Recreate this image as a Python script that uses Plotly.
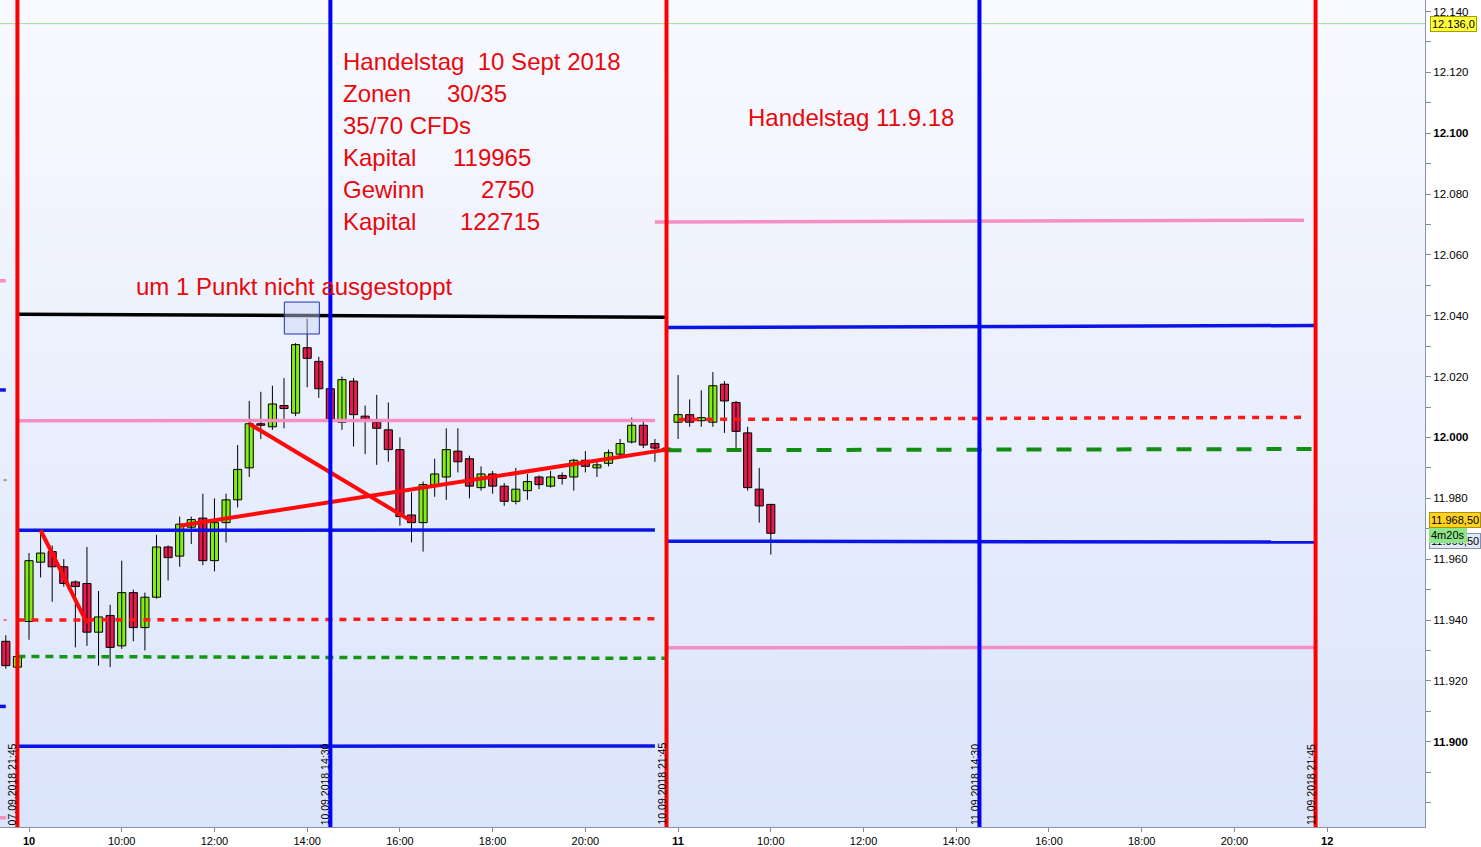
import plotly.graph_objects as go

# ---------------- data ----------------
candle_stamp = [
    "07.09.2018 21:30", "07.09.2018 21:45",
    "10.09.2018 08:00", "10.09.2018 08:15", "10.09.2018 08:30", "10.09.2018 08:45",
    "10.09.2018 09:00", "10.09.2018 09:15", "10.09.2018 09:30", "10.09.2018 09:45",
    "10.09.2018 10:00", "10.09.2018 10:15", "10.09.2018 10:30", "10.09.2018 10:45",
    "10.09.2018 11:00", "10.09.2018 11:15", "10.09.2018 11:30", "10.09.2018 11:45",
    "10.09.2018 12:00", "10.09.2018 12:15", "10.09.2018 12:30", "10.09.2018 12:45",
    "10.09.2018 13:00", "10.09.2018 13:15", "10.09.2018 13:30", "10.09.2018 13:45",
    "10.09.2018 14:00", "10.09.2018 14:15", "10.09.2018 14:30", "10.09.2018 14:45",
    "10.09.2018 15:00", "10.09.2018 15:15", "10.09.2018 15:30", "10.09.2018 15:45",
    "10.09.2018 16:00", "10.09.2018 16:15", "10.09.2018 16:30", "10.09.2018 16:45",
    "10.09.2018 17:00", "10.09.2018 17:15", "10.09.2018 17:30", "10.09.2018 17:45",
    "10.09.2018 18:00", "10.09.2018 18:15", "10.09.2018 18:30", "10.09.2018 18:45",
    "10.09.2018 19:00", "10.09.2018 19:15", "10.09.2018 19:30", "10.09.2018 19:45",
    "10.09.2018 20:00", "10.09.2018 20:15", "10.09.2018 20:30", "10.09.2018 20:45",
    "10.09.2018 21:00", "10.09.2018 21:15", "10.09.2018 21:30", "10.09.2018 21:45",
    "11.09.2018 08:00", "11.09.2018 08:15", "11.09.2018 08:30", "11.09.2018 08:45",
    "11.09.2018 09:00", "11.09.2018 09:15", "11.09.2018 09:30", "11.09.2018 09:45",
    "11.09.2018 10:00",
]
candle_open = [
    11933, 11924.5,
    11939.5, 11959, 11962.5, 11957.5, 11952.5, 11952, 11936, 11941.5,
    11931.5, 11949, 11937.5, 11947.5, 11964, 11961, 11970.5, 11973.5,
    11959.5, 11972, 11979.5, 11990, 12004.5, 12003.5, 12010.5, 12008,
    12029.5, 12025, 12016, 12005, 12018.5, 12007, 12005, 12002.5,
    11996, 11974.5, 11972, 11984.5, 11987, 11995.5, 11993, 11983.5,
    11988, 11984, 11979, 11982.5, 11987, 11984, 11987.5, 11987,
    11992.5, 11990, 11991.5, 11994.5, 11998.5, 12004, 11998, 11996.5,
    12005, 12007.5, 12005.5, 12005, 12017.5, 12011.5, 12001.5, 11983,
    11978,
]
candle_high = [
    11935, 11928.5,
    11962, 11969.5, 11964.5, 11960, 11953, 11964, 11949.5, 11945,
    11959.5, 11950, 11949, 11968, 11964.5, 11974, 11974, 11981.5,
    11980, 11981.5, 11997.5, 12012, 12015, 12017, 12019.5, 12031,
    12039, 12026.5, 12016.5, 12020, 12019.5, 12010.5, 12014, 12011.5,
    12000, 11982, 11985.5, 11993, 12003, 12003, 11994, 11990.5,
    11989, 11985, 11990, 11988, 11987.5, 11989, 11988.5, 11993,
    11995.5, 11992.5, 11996, 11999.5, 12006.5, 12006, 11999.5, 11998,
    12020.5, 12012.5, 12015.5, 12021.5, 12018.5, 12012, 12003.5, 11990,
    11978,
]
candle_low = [
    11924, 11924,
    11933.5, 11954, 11946, 11951, 11931, 11931.5, 11925, 11924.5,
    11930.5, 11933, 11930, 11947, 11953, 11957.5, 11965, 11958,
    11956, 11965.5, 11977, 11987, 11999.5, 12002.5, 12003, 12007,
    12016.5, 12013, 12005, 12002.5, 11997, 11994.5, 11991, 11992,
    11971, 11965.5, 11962.5, 11980.5, 11979.5, 11988.5, 11980, 11982.5,
    11981.5, 11977.5, 11978, 11979.5, 11983, 11983.5, 11984.5, 11982.5,
    11988.5, 11987, 11990.5, 11994, 11998, 11996.5, 11992, 11995,
    11999.5, 12003.5, 12003.5, 12003.5, 12001.5, 11996, 11982.5, 11972,
    11961.5,
]
candle_close = [
    11925, 11928,
    11959.5, 11962, 11957.5, 11952, 11951, 11936, 11941, 11931,
    11949, 11937.5, 11947.5, 11964, 11960.5, 11971.5, 11973, 11959.5,
    11972, 11979.5, 11989.5, 12004.5, 12004, 12011, 12009.5, 12030.5,
    12026, 12016, 12006, 12019, 12007.5, 12005.5, 12003, 11996,
    11974, 11972, 11984.5, 11988, 11996, 11992, 11984, 11988,
    11984, 11979, 11983, 11985.5, 11984.5, 11987, 11986.5, 11992.5,
    11990.5, 11991, 11995, 11998, 12004, 11997.5, 11996.5, 11996,
    12007.5, 12005, 12006.5, 12017, 12012, 12002, 11983.5, 11977.5,
    11968.5,
]

# drawn level / trend segments
seg_kind = ["stop", "zone_pink", "zone_blue", "entry", "pivot", "zone_blue",
            "zone_pink", "zone_blue", "entry", "pivot2", "zone_blue", "zone_pink",
            "zone_pink", "zone_blue", "prev_gray", "prev_red", "zone_blue", "zone_pink",
            "trend", "trend", "trend"]
seg_from = ["07.09.2018 21:45", "07.09.2018 21:45", "07.09.2018 21:45", "07.09.2018 21:45",
            "07.09.2018 21:45", "07.09.2018 21:45",
            "10.09.2018 21:30", "10.09.2018 21:45", "11.09.2018 08:00", "10.09.2018 21:45",
            "10.09.2018 21:45", "10.09.2018 21:45",
            "07.09.2018 21:00", "07.09.2018 21:00", "07.09.2018 21:30", "07.09.2018 21:30",
            "07.09.2018 21:00", "07.09.2018 21:00",
            "10.09.2018 08:15", "10.09.2018 12:45", "10.09.2018 11:15"]
seg_to = ["10.09.2018 21:45", "10.09.2018 21:30", "10.09.2018 21:30", "10.09.2018 21:30",
          "10.09.2018 21:45", "10.09.2018 21:30",
          "11.09.2018 21:30", "11.09.2018 21:45", "11.09.2018 21:30", "11.09.2018 21:45",
          "11.09.2018 21:45", "11.09.2018 21:45",
          "07.09.2018 21:30", "07.09.2018 21:30", "07.09.2018 21:30", "07.09.2018 21:30",
          "07.09.2018 21:30", "07.09.2018 21:30",
          "10.09.2018 09:15", "10.09.2018 16:15", "10.09.2018 21:45"]
seg_v0 = [12040.5, 12005.5, 11969.5, 11940, 11928, 11898.5,
          12070.8, 12036.1, 12005.9, 11995.8, 11965.9, 11930.9,
          12051.5, 12015.6, 11986, 11940, 11911.6, 11875,
          11969.5, 12004.5, 11971]
seg_v1 = [12039.5, 12005.6, 11969.6, 11940.4, 11927.4, 11898.6,
          12071.4, 12036.8, 12006.6, 11996.2, 11965.6, 11931,
          12051.5, 12015.6, 11986, 11940, 11911.6, 11875,
          11939, 11972.5, 11996]

marker_stamp = ["07.09.2018 21:45", "10.09.2018 14:30", "10.09.2018 21:45",
                "11.09.2018 14:30", "11.09.2018 21:45"]
marker_kind = ["close", "zone", "close", "zone", "close"]

box_from, box_to = "10.09.2018 13:30", "10.09.2018 14:15"
box_low, box_high = 12034, 12044.5

last_price = 12136
current_price = 11968.5
prior_price_label = "11.966,50"
timer_label = "4m20s"

x_tick_stamp = ["10.09.2018 08:00", "10.09.2018 10:00", "10.09.2018 12:00", "10.09.2018 14:00",
                "10.09.2018 16:00", "10.09.2018 18:00", "10.09.2018 20:00",
                "11.09.2018 08:00", "11.09.2018 10:00", "11.09.2018 12:00", "11.09.2018 14:00",
                "11.09.2018 16:00", "11.09.2018 18:00", "11.09.2018 20:00", "12.09.2018 08:00"]
x_tick_text = ["<b>10</b>", "10:00", "12:00", "14:00", "16:00", "18:00", "20:00",
               "<b>11</b>", "10:00", "12:00", "14:00", "16:00", "18:00", "20:00", "<b>12</b>"]
y_tick_vals = [11900, 11920, 11940, 11960, 11980, 12000, 12020, 12040, 12060,
               12080, 12100, 12120, 12140]

info_labels = ["Handelstag  10 Sept 2018", "Zonen", "35/70 CFDs", "Kapital", "Gewinn", "Kapital"]
info_values = ["", "30/35", "", "119965", "2750", "122715"]
day2_title = "Handelstag 11.9.18"
stop_note = "um 1 Punkt nicht ausgestoppt"

# ---------------- helpers ----------------
DAY_INDEX = {"07.09.2018": -1, "10.09.2018": 0, "11.09.2018": 1, "12.09.2018": 2}


def sess(stamp):
    d, t = stamp.split()
    hh, mm = t.split(":")
    return DAY_INDEX[d] * 14 + int(hh) - 8 + int(mm) / 60.0


PLOT_W, PLOT_H = 1425, 829
XR = [-0.6256, 30.11]
YR = [11871.97, 12143.77]


def pxp(px):
    return px / PLOT_W


def pyp(py):
    return 1 - py / PLOT_H


FONT = "Arial, Liberation Sans, sans-serif"
GREEN = "#84ee14"
RED = "#e8194c"

fig = go.Figure()

# background gradient (top almost white -> bottom light blue)
N = 60
top_c = (249, 250, 255)
bot_c = (218, 228, 250)
shapes = []
for i in range(N):
    f = i / (N - 1)
    c = tuple(round(bot_c[k] + (top_c[k] - bot_c[k]) * f) for k in range(3))
    shapes.append(dict(type="rect", xref="paper", yref="paper", x0=0, x1=1,
                       y0=i / N, y1=(i + 1) / N + 0.002, line=dict(width=0),
                       fillcolor="rgb(%d,%d,%d)" % c, layer="below"))

xs = [sess(s) for s in candle_stamp]

# wicks
wx, wy = [], []
for x, h, l in zip(xs, candle_high, candle_low):
    wx += [x, x, None]
    wy += [l, h, None]
fig.add_trace(go.Scatter(x=wx, y=wy, mode="lines", line=dict(color="black", width=1),
                         hoverinfo="skip", showlegend=False))

# bodies
for up in (True, False):
    bx, bb, bh = [], [], []
    for x, o, c in zip(xs, candle_open, candle_close):
        if (c >= o) == up:
            bx.append(x)
            bb.append(min(o, c))
            bh.append(max(abs(c - o), 0.35))
    fig.add_trace(go.Bar(x=bx, y=bh, base=bb, width=0.175,
                         marker=dict(color=GREEN if up else RED,
                                     line=dict(color="black", width=1)),
                         showlegend=False, hoverinfo="skip"))

# last-price thin line
shapes.append(dict(type="line", xref="paper", x0=0, x1=1, yref="y", y0=last_price,
                   y1=last_price, line=dict(color="#9ee09a", width=1)))

styles = {
    "stop": dict(color="black", width=3.5),
    "zone_pink": dict(color="#f58ec2", width=3.5),
    "zone_blue": dict(color="#0a14e6", width=3.5),
    "entry": dict(color="#ff1a1a", width=3.5, dash="7px,7px"),
    "pivot": dict(color="#149614", width=3.5, dash="8px,6px"),
    "pivot2": dict(color="#128c12", width=4, dash="15px,15px"),
    "prev_gray": dict(color="#9a9a9a", width=2),
    "prev_red": dict(color="#f07080", width=2),
    "trend": dict(color="#ff0a0a", width=4),
}
for k, f, t, v0, v1 in zip(seg_kind, seg_from, seg_to, seg_v0, seg_v1):
    x0, x1 = sess(f), sess(t)
    if k in ("prev_gray", "prev_red"):
        x0, x1 = x1 - 0.05, x1 + 0.02
    shapes.append(dict(type="line", xref="x", yref="y", x0=x0, x1=x1, y0=v0, y1=v1,
                       line=styles[k], layer="above"))

# highlight box
shapes.append(dict(type="rect", xref="x", yref="y", x0=sess(box_from) + 0.007,
                   x1=sess(box_to) + 0.012, y0=box_low, y1=box_high,
                   line=dict(color="#2232b4", width=1), fillcolor="rgba(200,212,246,0.45)"))

# vertical session markers
for s, k in zip(marker_stamp, marker_kind):
    x = sess(s)
    shapes.append(dict(type="line", xref="x", yref="paper", x0=x, x1=x, y0=0, y1=1,
                       line=dict(color="#ff0000" if k == "close" else "#0000ff", width=4),
                       layer="above"))

annotations = []
for s in marker_stamp:
    x = sess(s)
    annotations.append(dict(x=x, y=0, xref="x", yref="paper", text=s, textangle=-90,
                            showarrow=False, xanchor="center", yanchor="bottom",
                            xshift=-5, yshift=0,
                            font=dict(family=FONT, size=10.5, color="black")))

# text blocks
TXT = dict(family=FONT, size=24, color="#e8080c")
rows_y = [62, 94, 126, 158, 190, 222]
value_x = [None, 446, None, 452, 480, 459]
for lab, val, ry, vx in zip(info_labels, info_values, rows_y, value_x):
    annotations.append(dict(x=pxp(342), y=pyp(ry), xref="paper", yref="paper", text=lab,
                            showarrow=False, xanchor="left", yanchor="middle", font=TXT,
                            borderpad=0))
    if val:
        annotations.append(dict(x=pxp(vx), y=pyp(ry), xref="paper", yref="paper", text=val,
                                showarrow=False, xanchor="left", yanchor="middle", font=TXT,
                                borderpad=0))
annotations.append(dict(x=pxp(747), y=pyp(118), xref="paper", yref="paper", text=day2_title,
                        showarrow=False, xanchor="left", yanchor="middle", font=TXT, borderpad=0))
annotations.append(dict(x=pxp(135), y=pyp(287), xref="paper", yref="paper", text=stop_note,
                        showarrow=False, xanchor="left", yanchor="middle", font=TXT, borderpad=0))


def fmt_price(v, dec):
    s = "{:,.{d}f}".format(v, d=dec)
    return s.replace(",", "X").replace(".", ",").replace("X", ".")


LBL = dict(family=FONT, size=11, color="black")
annotations.append(dict(x=1, y=last_price, xref="paper", yref="y", text=fmt_price(last_price, 1),
                        showarrow=False, xanchor="left", yanchor="middle", xshift=5,
                        bgcolor="#ffff3c", bordercolor="#a0a000", borderwidth=1, borderpad=1,
                        font=LBL))
annotations.append(dict(x=1, y=pyp(542), xref="paper", yref="paper", text=prior_price_label,
                        showarrow=False, xanchor="left", yanchor="middle", xshift=4,
                        bgcolor="#e2e8f4", bordercolor="#8090b0", borderwidth=1, borderpad=1,
                        font=LBL))
annotations.append(dict(x=1, y=pyp(536), xref="paper", yref="paper", text=timer_label,
                        showarrow=False, xanchor="left", yanchor="middle", xshift=4,
                        bgcolor="#8ee68a", bordercolor="#8ee68a", borderwidth=1, borderpad=1,
                        font=LBL))
annotations.append(dict(x=1, y=pyp(521), xref="paper", yref="paper",
                        text=fmt_price(current_price, 2),
                        showarrow=False, xanchor="left", yanchor="middle", xshift=4,
                        bgcolor="#ffd21e", bordercolor="#b09000", borderwidth=1, borderpad=1,
                        font=LBL))

y_tick_text = []
for v in y_tick_vals:
    t = fmt_price(v, 0)
    y_tick_text.append("<b>%s</b>" % t if v % 100 == 0 else t)

fig.update_layout(
    width=1481, height=847,
    margin=dict(l=0, r=56, t=0, b=18),
    paper_bgcolor="white", plot_bgcolor="#f4f6fe",
    barmode="overlay", showlegend=False,
    shapes=shapes, annotations=annotations,
    font=dict(family=FONT, size=11, color="black"),
    xaxis=dict(range=XR, tickmode="array", tickvals=[sess(s) for s in x_tick_stamp],
               ticktext=x_tick_text, ticks="outside", ticklen=4, tickcolor="#7d8a9a",
               showline=True, linecolor="#8794a6", linewidth=1, showgrid=False,
               zeroline=False, tickfont=dict(family=FONT, size=11, color="black"),
               fixedrange=True),
    yaxis=dict(range=YR, side="right", tickmode="array", tickvals=y_tick_vals,
               ticktext=y_tick_text, ticks="outside", ticklen=5, tickcolor="#7d8a9a",
               minor=dict(dtick=10, tick0=0, ticks="outside", ticklen=5, tickcolor="#7d8a9a",
                          showgrid=False),
               showline=True, linecolor="#8794a6", linewidth=1, showgrid=False,
               zeroline=False, tickfont=dict(family=FONT, size=11.5, color="black"),
               fixedrange=True),
)

fig.write_html("out.html", config={"displayModeBar": False},
               post_script="document.body.style.margin='0';document.body.style.padding='0';"
                           "document.body.style.overflow='hidden';")
